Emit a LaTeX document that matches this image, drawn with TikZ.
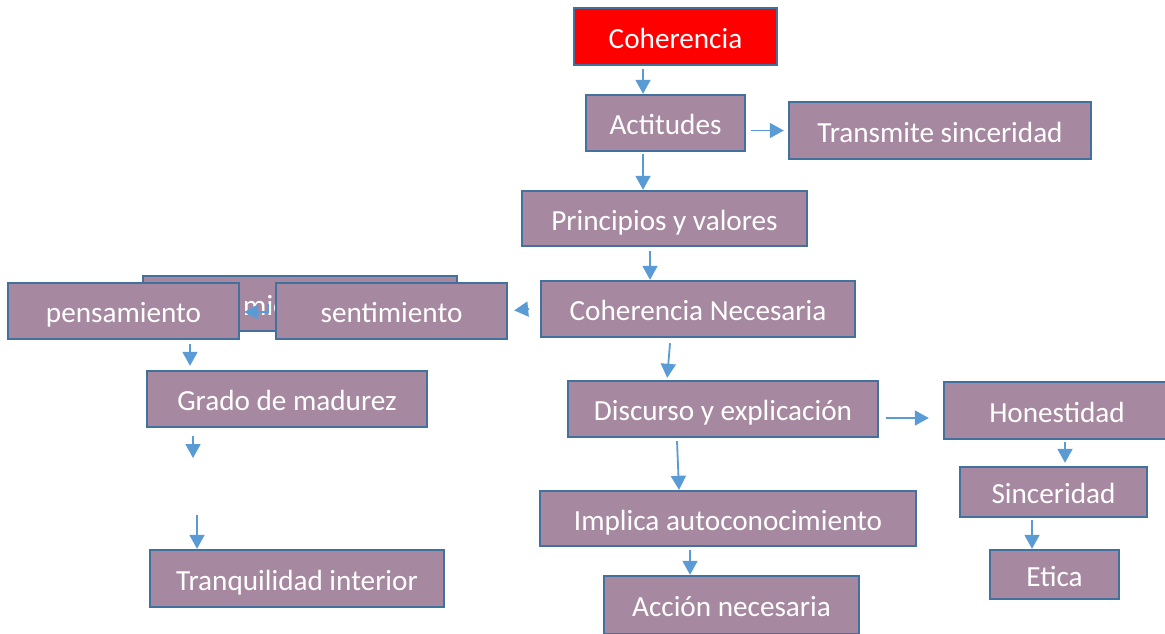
\documentclass[tikz,border=0pt]{standalone}
\usepackage{fontspec}
\setmainfont{Carlito}
\usetikzlibrary{arrows.meta}
\definecolor{boxfill}{RGB}{166,137,160}
\definecolor{boxline}{RGB}{65,113,156}
\definecolor{arrowblue}{RGB}{91,155,213}
\tikzset{
  box/.style={draw=boxline, line width=1.2pt, fill=boxfill, text=white,
    font=\fontsize{14.6pt}{17pt}\selectfont, text height=12.5pt, text depth=1pt, inner sep=0pt},
  arr/.style={draw=arrowblue, line width=0.9pt, -{Triangle[width=7.5pt,length=7pt]}},
}
\begin{document}
\begin{tikzpicture}[x=0.5pt,y=-0.5pt]
      \useasboundingbox (0,0) rectangle (1165,633);
      \fill[white] (0,0) rectangle (1165,633);
      \node[box, fill=red, minimum width=101.5pt, minimum height=28.5pt] (coh) at (675.5,36.5) {Coherencia};
      \node[box, minimum width=79.5pt, minimum height=28pt] (act) at (665.5,123) {Actitudes};
      \node[box, minimum width=151pt, minimum height=28.5pt] (tra) at (940,130.5) {Transmite sinceridad};
      \node[box, minimum width=142.5pt, minimum height=27.5pt] (pri) at (664.5,218.5) {Principios y valores};
      \node[box, minimum width=157pt, minimum height=28pt] (con) at (698,309) {Coherencia Necesaria};
      \node[box, minimum width=157pt, minimum height=27.5pt] (bak) at (300,303.5) {};
      \node[box, draw=none, fill=none, text height=, text depth=, anchor=base west] (bakt) at (242,315) {mie};
      \node[box, minimum width=115.5pt, minimum height=28pt] (pen) at (123.5,311) {pensamiento};
      \draw[arr, shorten >=2pt] (bak.center -| 268,0) |- (pen.east |- 0,312);
      \node[box, minimum width=115.5pt, minimum height=28pt] (sen) at (391.5,311) {sentimiento};
      \node[box, minimum width=140pt, minimum height=28pt] (gra) at (287,399) {Grado de madurez};
      \node[box, minimum width=147pt, minimum height=28.5pt] (tranq) at (297,578.5) {Tranquilidad interior};
      \node[box, minimum width=155pt, minimum height=28pt] (dis) at (723,409) {Discurso y explicación};
      \node[box, minimum width=113pt, minimum height=28.5pt] (hon) at (1057,410.5) {Honestidad};
      \node[box, minimum width=93.5pt, minimum height=25pt] (sin) at (1053.5,492) {Sinceridad};
      \node[box, minimum width=64.5pt, minimum height=24.5pt] (eti) at (1054.5,574.5) {Etica};
      \node[box, minimum width=188pt, minimum height=27.5pt] (imp) at (728,518.5) {Implica autoconocimiento};
      \node[box, minimum width=127.5pt, minimum height=29pt] (acc) at (731.5,605) {Acción necesaria};
      \coordinate (g1) at (193,458);
      \coordinate (g2) at (197,515);
      \draw[arr] (coh.south -| 643,0) ++(0,3) -- (act.north -| 643,0);
      \draw[arr, shorten >=2pt] (act.east |- tra.west) ++(5,0) -- (tra.west);
      \draw[arr] (act.south -| 643,0) ++(0,2) -- (pri.north -| 643,0);
      \draw[arr] (pri.south -| 650,0) ++(0,4) -- (con.north -| 650,0);
      \draw[arr, shorten >=3pt] (con.west) ++(-11,0) -- (sen.east);
      \draw[arr, shorten >=2pt] (pen.south -| 190,0) ++(0,4) -- (gra.north -| 190,0);
      \draw[arr] (gra.south -| 193,0) ++(0,8) -- (g1);
      \draw[arr] (g2) -- (tranq.north -| 197,0);
      \draw[arr, shorten >=1pt] (con.south -| 670,0) ++(0,5) -- (dis.north -| 667,0);
      \draw[arr, shorten >=7pt] (dis.east |- 0,418) ++(7,0) -- (hon.west |- 0,418);
      \draw[arr] (dis.south -| 677,0) ++(0,3) -- (imp.north -| 679,0);
      \draw[arr] (imp.south -| 690,0) ++(0,3) -- (acc.north -| 690,0);
      \draw[arr, shorten >=1.5pt] (hon.south -| 1065,0) ++(0,2) -- (sin.north -| 1065,0);
      \draw[arr] (sin.south -| 1032,0) ++(0,2) -- (eti.north -| 1032,0);
    \end{tikzpicture}
\end{document}
